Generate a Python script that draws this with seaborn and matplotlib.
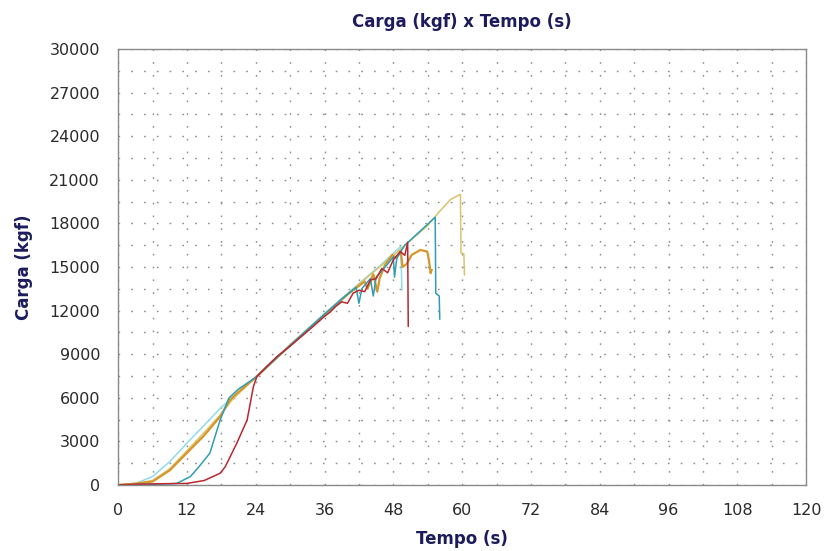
import numpy as np
import pandas as pd
import matplotlib
matplotlib.use("Agg")
import matplotlib.pyplot as plt
from matplotlib.ticker import MultipleLocator
import seaborn as sns

# values (tempo in s, carga in kgf)
red_t = [0, 4, 8, 12, 15, 17.8, 18.7, 20.7, 22.5, 23.6, 24.2, 25.9, 27.7, 30, 34, 36, 37, 38, 39, 40,
         41, 42, 43, 44, 45, 46, 47, 48, 49.2, 50, 50.5, 50.6]
red_y = [0, 50, 80, 100, 300, 800, 1260, 2870, 4470, 6770, 7450, 8140, 8830, 9550, 10900, 11600, 11900,
         12300, 12600, 12500, 13200, 13400, 13300, 14100, 14200, 14900, 14600, 15500, 16060, 15800, 16700, 10900]

teal_t = [0, 4, 8, 10.2, 12.6, 14, 16, 17.8, 19.3, 21, 24, 30, 36, 39, 41.5, 42, 42.5, 44, 44.5, 45, 47,
          48, 48.2, 48.6, 50, 55.3, 55.4, 56, 56.1]
teal_y = [0, 30, 60, 100, 570, 1200, 2180, 4470, 5970, 6600, 7400, 9600, 11750, 12800, 13600, 12500,
          13500, 14200, 13000, 14300, 15200, 15700, 14300, 15600, 16500, 18420, 13200, 13000, 11400]

cyan_t = [0, 3, 6, 9, 12, 15, 18, 20, 24, 30, 36, 42, 46, 48, 49.3, 49.5]
cyan_y = [0, 100, 570, 1600, 2870, 4100, 5350, 6000, 7450, 9650, 11800, 13850, 15200, 15950, 16400, 13400]

orange_t = [0, 3, 6, 9, 12, 15, 17.8, 19.5, 21, 24, 30, 36, 40, 42, 43, 43.5, 44.5, 45.2, 45.6, 46.5,
            47.8, 48.5, 49.3, 49.6, 50.3, 51.2, 52.7, 53.9, 54.2, 54.5, 54.7]
orange_y = [0, 80, 230, 1000, 2200, 3400, 4700, 5850, 6400, 7400, 9600, 11700, 13100, 13700, 14000, 13500,
            14500, 13300, 14200, 15100, 15830, 15600, 16100, 15000, 15200, 15830, 16170, 16060, 15490, 14570, 14800]

yellow_t = [0, 3, 6, 9, 12, 15, 18, 20, 24, 30, 36, 42, 48, 54, 56, 58, 59.7, 59.8, 60.3, 60.4]
yellow_y = [0, 100, 300, 1100, 2350, 3600, 4900, 5900, 7400, 9600, 11750, 13800, 15800, 17850, 18800,
            19650, 20000, 15970, 15900, 14450]

series = {
    "vermelho": (red_t, red_y),
    "azul": (teal_t, teal_y),
    "ciano": (cyan_t, cyan_y),
    "laranja": (orange_t, orange_y),
    "amarelo": (yellow_t, yellow_y),
}
palette = {
    "ciano": "#8fdcea",
    "amarelo": "#d8c46a",
    "laranja": "#d6962c",
    "azul": "#2f9db5",
    "vermelho": "#b8282e",
}
widths = {"ciano": 1.1, "amarelo": 1.1, "laranja": 1.6, "azul": 1.1, "vermelho": 1.1}

frames = []
for name, (t, y) in series.items():
    frames.append(pd.DataFrame({"tempo": t, "carga": y, "serie": name}))
df = pd.concat(frames, ignore_index=True)

sns.set_style("white")
plt.rcParams["font.family"] = ["DejaVu Sans"]

fig = plt.figure(figsize=(8.26, 5.51), dpi=100)
ax = fig.add_axes([0.143, 0.12, 0.833, 0.791])

navy = "#1c1c5c"
grid_kw = dict(color="#8c8c8c", linestyle=(0, (1.2, 8)), linewidth=1.0)

for name in ["ciano", "amarelo", "laranja", "azul", "vermelho"]:
    sns.lineplot(data=df[df["serie"] == name], x="tempo", y="carga", color=palette[name],
                 sort=False, estimator=None, linewidth=widths[name], ax=ax, legend=False)

ax.set_xlim(0, 120)
ax.set_ylim(0, 30000)
ax.xaxis.set_major_locator(MultipleLocator(12))
ax.xaxis.set_minor_locator(MultipleLocator(6))
ax.yaxis.set_major_locator(MultipleLocator(3000))
ax.yaxis.set_minor_locator(MultipleLocator(1500))
ax.grid(True, which="both", **grid_kw)
ax.set_axisbelow(True)

for sp in ax.spines.values():
    sp.set_color("#8a8a8a")
    sp.set_linewidth(1.0)

ax.tick_params(which="major", direction="inout", length=10, width=1, color="#8a8a8a",
               labelsize=11.5, labelcolor="#2a2a2a")
ax.tick_params(which="minor", direction="inout", length=6, width=1, color="#8a8a8a")
ax.tick_params(axis="y", which="major", pad=8)
ax.tick_params(axis="x", which="major", pad=8)

ax.set_title("Carga (kgf) x Tempo (s)", fontsize=12, fontweight="bold", color=navy, pad=16)
ax.set_xlabel("Tempo (s)", fontsize=12, fontweight="bold", color=navy, labelpad=9)
ax.set_ylabel("Carga (kgf)", fontsize=12, fontweight="bold", color=navy, labelpad=12)

fig.savefig("out.png", dpi=100, facecolor="white")
